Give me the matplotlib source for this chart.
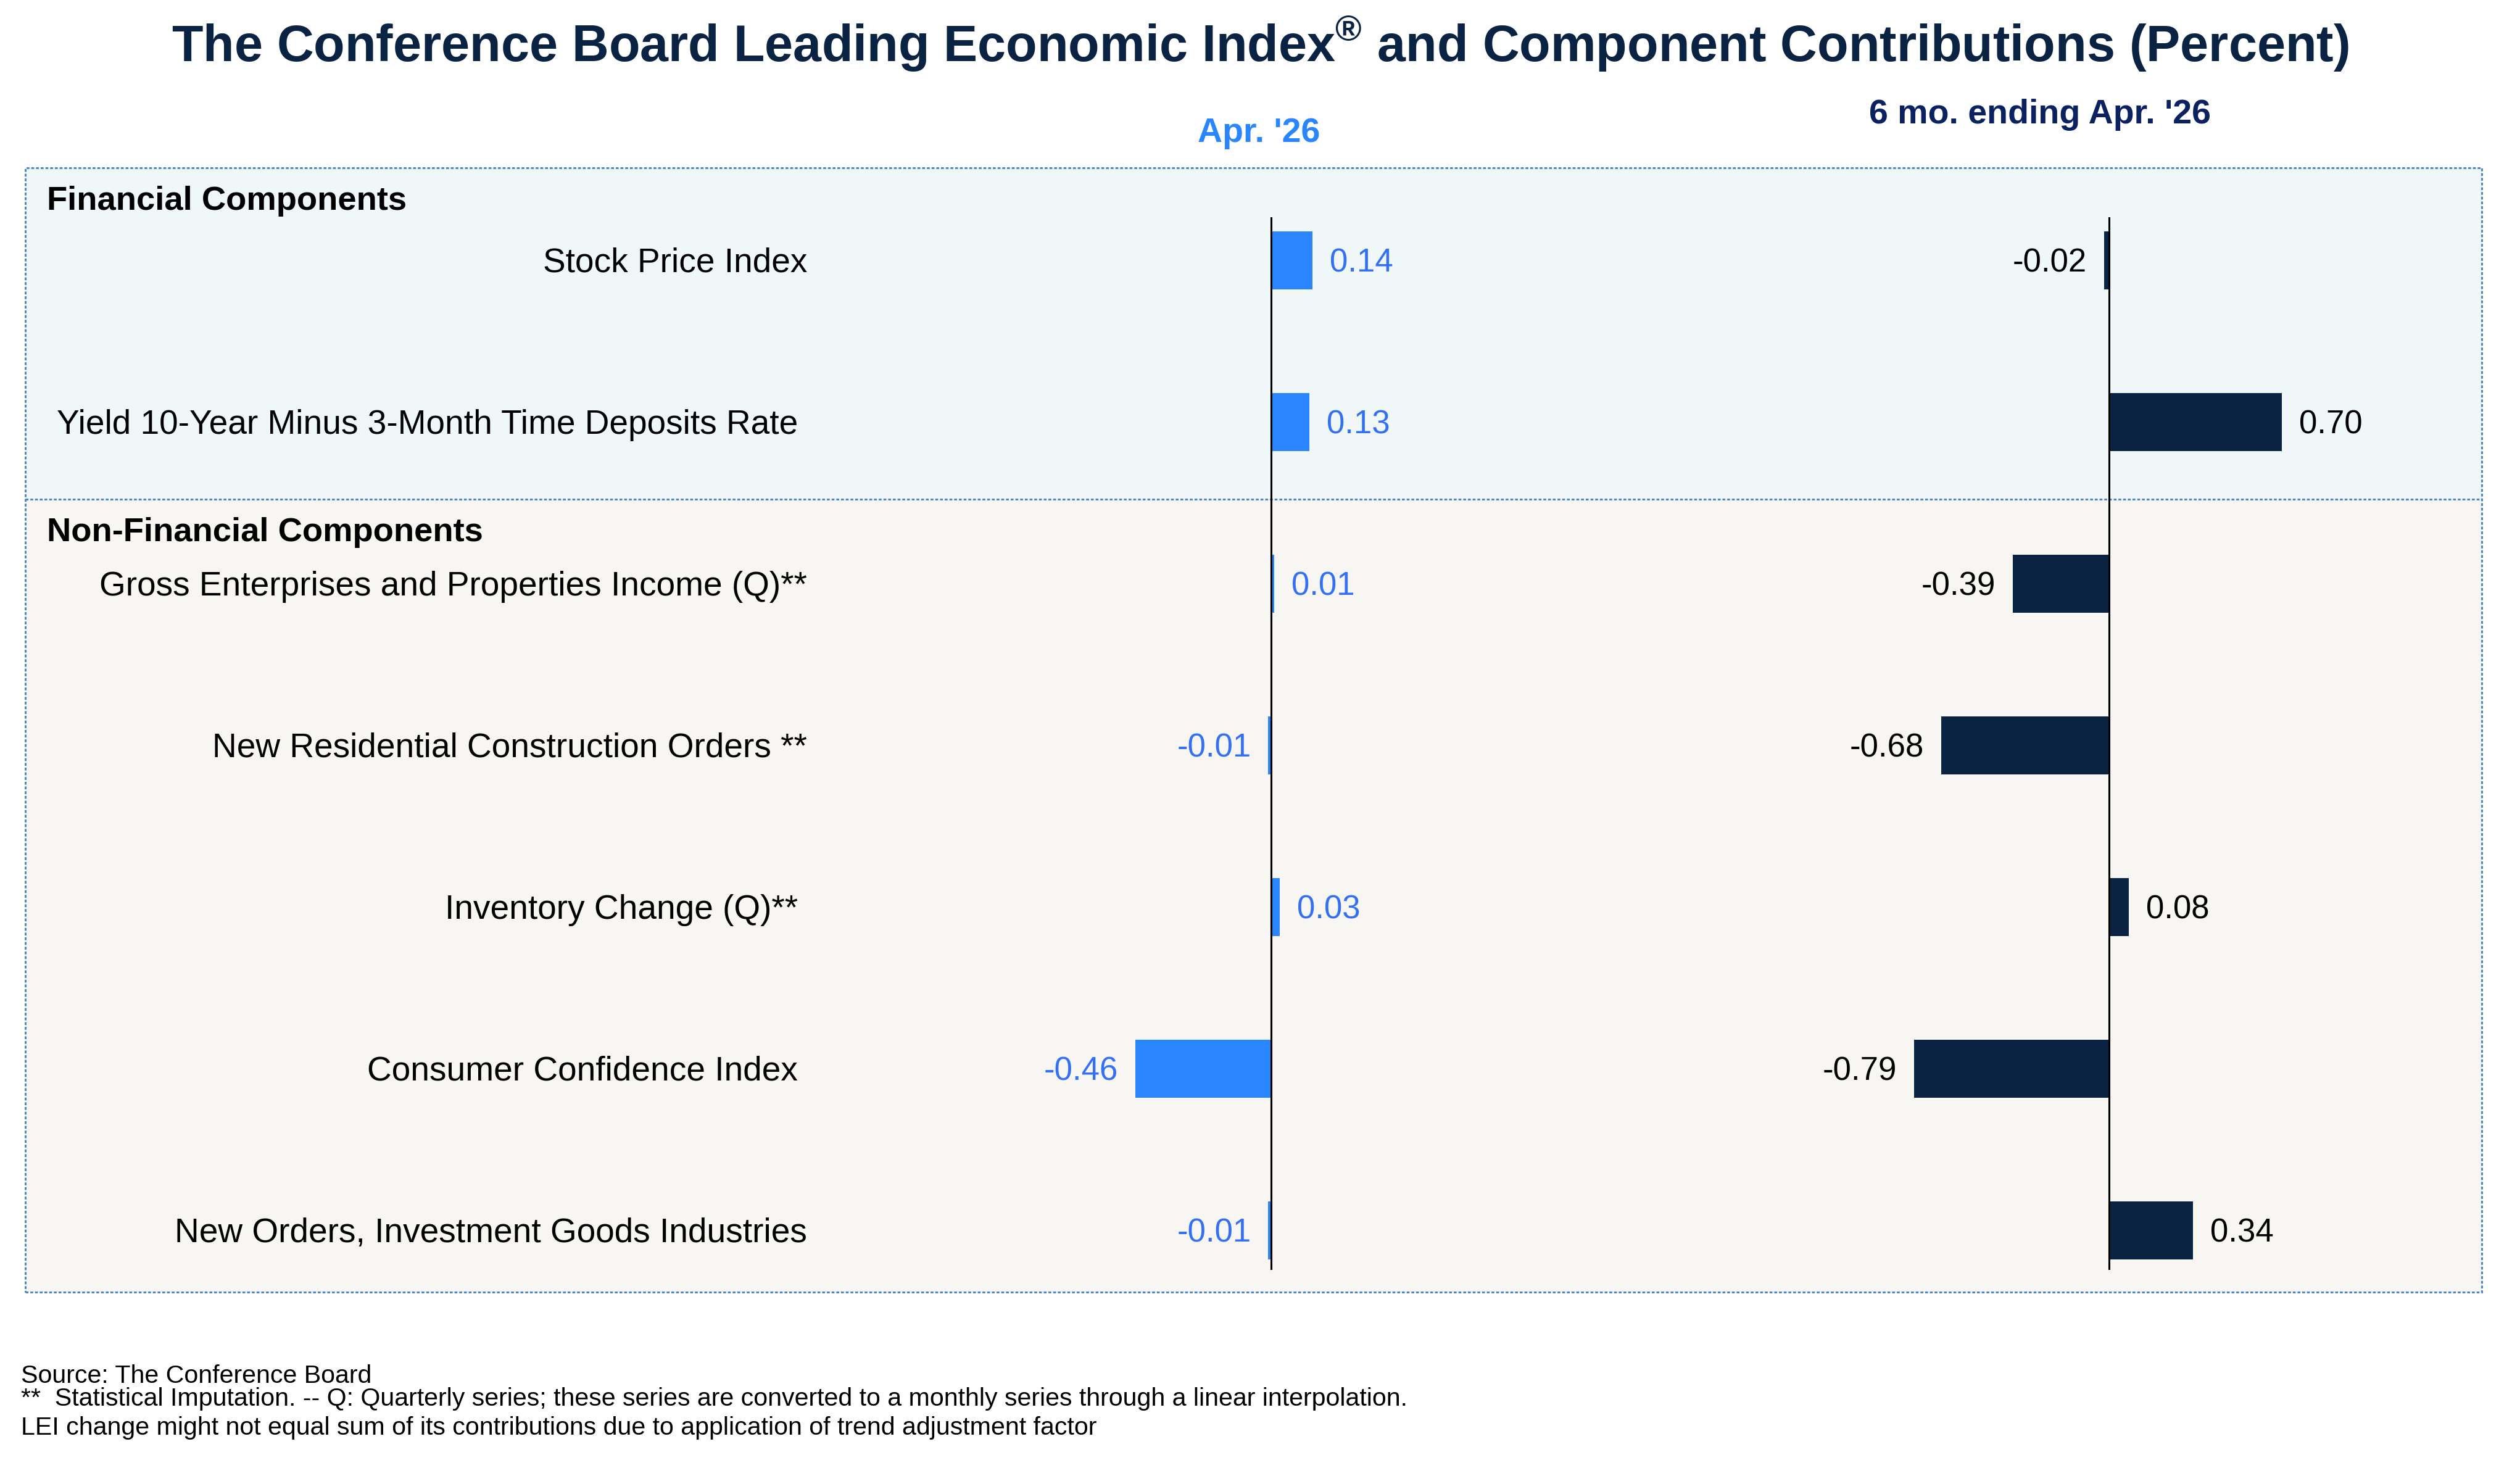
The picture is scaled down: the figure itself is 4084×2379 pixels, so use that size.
import matplotlib
matplotlib.use('Agg')
from matplotlib import pyplot as plt
from matplotlib.patches import Rectangle
from matplotlib.lines import Line2D
from matplotlib.transforms import blended_transform_factory

plt.rcParams['font.family'] = ['Liberation Sans', 'DejaVu Sans']
plt.rcParams['mathtext.fontset'] = 'custom'
plt.rcParams['mathtext.rm'] = 'Liberation Sans:bold'
plt.rcParams['mathtext.bf'] = 'Liberation Sans:bold'

# data
components = [
    'Stock Price Index',
    'Yield 10-Year Minus 3-Month Time Deposits Rate ',
    'Gross Enterprises and Properties Income (Q)**',
    'New Residential Construction Orders **',
    'Inventory Change (Q)** ',
    'Consumer Confidence Index ',
    'New Orders, Investment Goods Industries',
]
month_contrib = [0.14, 0.13, 0.01, -0.01, 0.03, -0.46, -0.01]
six_month_contrib = [-0.02, 0.70, -0.39, -0.68, 0.08, -0.79, 0.34]
col_titles = ["Apr. '26", "6 mo. ending Apr. '26"]
sections = ['Financial Components', 'Non-Financial Components']
footnotes = [
    'Source: The Conference Board',
    '**  Statistical Imputation. -- Q: Quarterly series; these series are converted to a monthly series through a linear interpolation.',
    "LEI change might not equal sum of its contributions due to application of trend adjustment factor",
]

W, H = 4084, 2379
DPI = 200
BLUE = '#2a86ff'
BLUE_TXT = '#3370f5'
NAVY = '#0b2343'

fig = plt.figure(figsize=(W / DPI, H / DPI), dpi=DPI)

def fx(px):
    return px / W

def fy(py):
    return 1 - py / H

# panel backgrounds and dotted frame
fig.patches.append(Rectangle((fx(41), fy(809)), fx(4022 - 41), (809 - 272) / H,
                             transform=fig.transFigure, facecolor='#eff7f9', edgecolor='none', zorder=-5))
fig.patches.append(Rectangle((fx(41), fy(2094)), fx(4022 - 41), (2094 - 809) / H,
                             transform=fig.transFigure, facecolor='#f7f6f2', edgecolor='none', zorder=-5))
fig.patches.append(Rectangle((fx(41), fy(2094)), fx(4022 - 41), (2094 - 272) / H,
                             transform=fig.transFigure, facecolor='none', edgecolor='#4f86c6',
                             lw=1.1, linestyle=(0, (1.5, 1.0)), zorder=-4))
fig.lines.append(Line2D([fx(41), fx(4022)], [fy(809), fy(809)], transform=fig.transFigure,
                        color='#4f86c6', lw=1.1, linestyle=(0, (1.5, 1.0)), zorder=-4))

# axes: pixel extents and scale (px per unit)
rows = list(range(len(components)))
y_top, y_bot, row_px, first_row = 352, 2058, 262, 422
ylim = ((y_bot - first_row) / row_px, (y_top - first_row) / row_px)

def make_axes(x0, x1, zero_px, px_per_unit):
    ax = fig.add_axes([fx(x0), fy(y_bot), fx(x1 - x0), (y_bot - y_top) / H], zorder=2)
    ax.set_xlim((x0 - zero_px) / px_per_unit, (x1 - zero_px) / px_per_unit)
    ax.set_ylim(*ylim)
    ax.axis('off')
    ax.patch.set_visible(False)
    return ax

ax1 = make_axes(1450, 2700, 2060, 478)
ax2 = make_axes(2750, 4000, 3418, 400)

for ax, vals, bar_c, txt_c in [(ax1, month_contrib, BLUE, BLUE_TXT),
                               (ax2, six_month_contrib, NAVY, 'black')]:
    ax.barh(rows, vals, height=0.355, color=bar_c, zorder=2)
    ax.axvline(0, color='black', lw=1.1, zorder=3)
    for i, v in zip(rows, vals):
        ax.annotate(f'{v:.2f}', xy=(v, i), xytext=(10 if v >= 0 else -10, -6.8),
                    textcoords='offset points', ha='left' if v >= 0 else 'right',
                    va='baseline', fontsize=19, color=txt_c)

# category labels
tr = blended_transform_factory(fig.transFigure, ax1.transData)
for i, name in zip(rows, components):
    ax1.annotate(name, xy=(fx(1308), i), xycoords=tr, xytext=(0, -6.8),
                 textcoords='offset points', ha='right', va='baseline',
                 fontsize=19.8, color='black')

# section headers
fig.text(fx(76), fy(340), sections[0], fontsize=19.6, fontweight='bold', va='baseline')
fig.text(fx(76), fy(877), sections[1], fontsize=19.6, fontweight='bold', va='baseline')

# column headers
fig.text(fx(2040), fy(230), col_titles[0], fontsize=20, fontweight='bold', color=BLUE,
         ha='center', va='baseline')
fig.text(fx(3306), fy(200), col_titles[1], fontsize=20, fontweight='bold', color='#0c2260',
         ha='center', va='baseline')

# title
fig.text(0.5, fy(100),
         r'The Conference Board Leading Economic Index$^{\mathrm{®}}$ and Component Contributions (Percent)',
         fontsize=29.8, fontweight='bold', color=NAVY, ha='center', va='baseline')

# footnotes
for txt, base in zip(footnotes, [2241, 2278, 2325]):
    fig.text(fx(34), fy(base), txt, fontsize=14.8, va='baseline')

fig.savefig('out.png', dpi=DPI)
